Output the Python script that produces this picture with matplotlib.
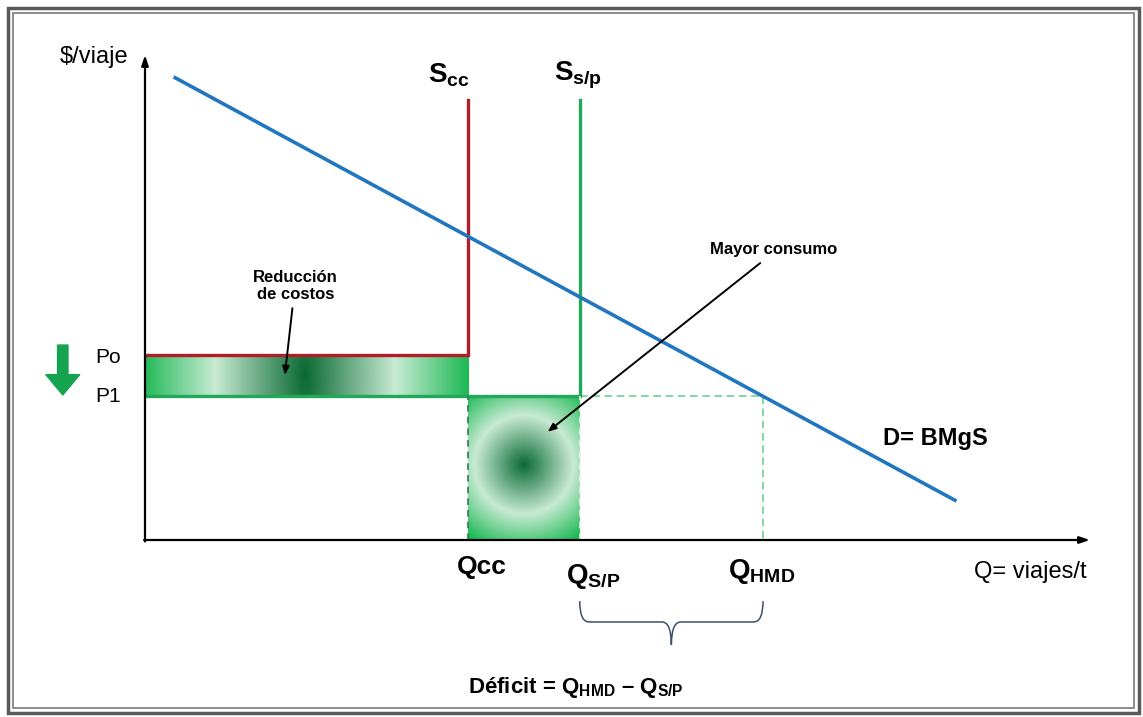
import numpy as np
import matplotlib.pyplot as plt
from matplotlib.colors import LinearSegmentedColormap
from matplotlib.patches import Rectangle, FancyArrow, PathPatch
from matplotlib.path import Path

plt.rcParams['font.family'] = ['Liberation Sans', 'DejaVu Sans']
plt.rcParams['mathtext.fontset'] = 'custom'
plt.rcParams['mathtext.rm'] = 'Liberation Sans'
plt.rcParams['mathtext.bf'] = 'Liberation Sans:bold'

# quantities and prices (chart units)
q_cc = 34.2
q_sp = 46.0
q_hmd = 65.4
p_o = 38.1
p_1 = 29.7
supply_top = 90.7
demand_x = [3.2, 85.7]
demand_y = [95.3, 8.2]

W, H = 1143, 717
fig = plt.figure(figsize=(W / 100, H / 100), dpi=100)
ax = fig.add_axes([145 / W, 1 - 540 / H, (1090 - 145) / W, (540 - 55) / H])
ax.set_axis_off()

# double frame around the figure
fig.patches.append(Rectangle((8 / W, 4 / H), 1131 / W, 705 / H, transform=fig.transFigure,
                             fill=False, edgecolor='#5a5a5a', lw=2.5))
fig.patches.append(Rectangle((13 / W, 9 / H), 1121 / W, 695 / H, transform=fig.transFigure,
                             fill=False, edgecolor='#7a7a7a', lw=1.2))

# gradient colours
cmap = LinearSegmentedColormap.from_list('g', [(0, '#0b6b34'), (0.55, '#c8eAd3'), (1, '#1db954')])
yscale = ((540 - 55) / 100) / ((1090 - 145) / 100)  # y units relative to x units on screen

# reduction of costs bar
xs = np.linspace(0, q_cc, 300)
ys = np.linspace(p_1, p_o, 40)
X, Y = np.meshgrid(xs, ys)
d = np.sqrt(((X - 16.9) / 17.3) ** 2 + (0.3 * (Y - (p_o + p_1) / 2) * yscale / 17.3) ** 2)
ax.imshow(np.clip(d, 0, 1), cmap=cmap, vmin=0, vmax=1, extent=[0, q_cc, p_1, p_o],
          origin='lower', aspect='auto', zorder=1, interpolation='bilinear')

# greater consumption square
xs = np.linspace(q_cc, q_sp, 150)
ys = np.linspace(0, p_1, 150)
X, Y = np.meshgrid(xs, ys)
cx, cy = (q_cc + q_sp) / 2, p_1 * 0.52
d = np.sqrt((X - cx) ** 2 + ((Y - cy) * yscale) ** 2) / 9.5
ax.imshow(np.clip(d, 0, 1), cmap=cmap, vmin=0, vmax=1, extent=[q_cc, q_sp, 0, p_1],
          origin='lower', aspect='auto', zorder=1, interpolation='bilinear')

# supply curves
red = '#b01e28'
green = '#22a85a'
ax.plot([0, q_cc, q_cc], [p_o, p_o, supply_top], color=red, lw=2.4, zorder=3,
        solid_joinstyle='miter')
ax.plot([0, q_sp, q_sp], [p_1, p_1, supply_top], color=green, lw=2.4, zorder=3,
        solid_joinstyle='miter')
ax.plot([q_cc, q_cc], [0, p_1], color='#2e7d4f', lw=1.2, ls=(0, (4, 3)), zorder=3)
ax.plot([q_sp, q_sp], [0, p_1], color='#e8f5ec', lw=1.2, ls=(0, (4, 3)), zorder=3)
ax.plot([q_sp, q_hmd, q_hmd], [p_1, p_1, 0], color='#5ccf86', lw=1.1, ls=(0, (5, 3)), zorder=2)

# demand
ax.plot(demand_x, demand_y, color='#2176c0', lw=2.6, zorder=4)

# axes with arrows
ax.annotate('', xy=(0, 100), xytext=(0, -0.3),
            arrowprops=dict(arrowstyle='-|>,head_length=0.6,head_width=0.2', color='black', lw=1.6,
                            shrinkA=0, shrinkB=0), annotation_clip=False, zorder=5)
ax.annotate('', xy=(100, 0), xytext=(-0.1, 0),
            arrowprops=dict(arrowstyle='-|>,head_length=0.6,head_width=0.2', color='black', lw=1.6,
                            shrinkA=0, shrinkB=0), annotation_clip=False, zorder=5)

ax.set_xlim(0, 100)
ax.set_ylim(0, 100)

# green arrow: price goes down
ax.add_patch(FancyArrow(-8.7, 40.2, 0, -10.3, width=1.1, head_width=3.6, head_length=4.2,
                        length_includes_head=True, color='#16a350', clip_on=False, zorder=5))

# labels
ax.text(-1.8, 99.6, '$/viaje', fontsize=17, ha='right', va='center', clip_on=False)
ax.text(32.2, 95.9, r'$\mathbf{S_{cc}}$', fontsize=20, ha='center', va='center')
ax.text(45.8, 95.9, r'$\mathbf{S_{s/p}}$', fontsize=20, ha='center', va='center')
ax.text(-5.3, 37.7, 'Po', fontsize=15, ha='left', va='center', clip_on=False)
ax.text(-5.3, 29.5, 'P1', fontsize=15, ha='left', va='center', clip_on=False)
ax.text(35.6, -5.6, 'Qcc', fontsize=19, fontweight='bold', ha='center', va='center', clip_on=False)
ax.text(47.4, -7.6, r'$\mathbf{Q_{S/P}}$', fontsize=20, ha='center', va='center', clip_on=False)
ax.text(65.2, -6.4, r'$\mathbf{Q_{HMD}}$', fontsize=20, ha='center', va='center', clip_on=False)
ax.text(93.7, -6.6, 'Q= viajes/t', fontsize=17, ha='center', va='center', clip_on=False)
ax.text(83.6, 21.0, 'D= BMgS', fontsize=17, fontweight='bold', ha='center', va='center')
ax.text(45.6, -30.5, 'Déficit = ' + r'$\mathbf{Q_{HMD}}$' + ' – ' + r'$\mathbf{Q_{S/P}}$',
        fontsize=16, fontweight='bold', ha='center', va='center', clip_on=False)

ax.text(15.9, 52.3, 'Reducción\nde costos', fontsize=12, fontweight='bold', ha='center',
        va='center', linespacing=1.15)
ax.annotate('', xy=(14.8, 34.0), xytext=(15.6, 47.8),
            arrowprops=dict(arrowstyle='-|>,head_length=0.5,head_width=0.2', color='black', lw=1.4,
                            shrinkA=0, shrinkB=0), zorder=6)
ax.text(66.5, 59.8, 'Mayor consumo', fontsize=12, fontweight='bold', ha='center', va='center')
ax.annotate('', xy=(42.6, 22.3), xytext=(65.1, 57.1),
            arrowprops=dict(arrowstyle='-|>,head_length=0.5,head_width=0.2', color='black', lw=1.4,
                            shrinkA=0, shrinkB=0), zorder=6)

# brace under the deficit
x0, x1 = q_sp, q_hmd
xm = (x0 + x1) / 2
yt, yh, yb = -12.6, -16.9, -21.6
r = 1.0
verts = [(x0, yt), (x0, yh), (x0 + r, yh), (xm - r, yh), (xm, yh), (xm, yb),
         (xm, yb), (xm, yh), (xm + r, yh), (x1 - r, yh), (x1, yh), (x1, yt)]
codes = [Path.MOVETO, Path.CURVE3, Path.CURVE3, Path.LINETO, Path.CURVE3, Path.CURVE3,
         Path.MOVETO, Path.CURVE3, Path.CURVE3, Path.LINETO, Path.CURVE3, Path.CURVE3]
ax.add_patch(PathPatch(Path(verts, codes), fill=False, edgecolor='#3d4f6e', lw=1.1, clip_on=False))

fig.savefig('out.png', dpi=100)
